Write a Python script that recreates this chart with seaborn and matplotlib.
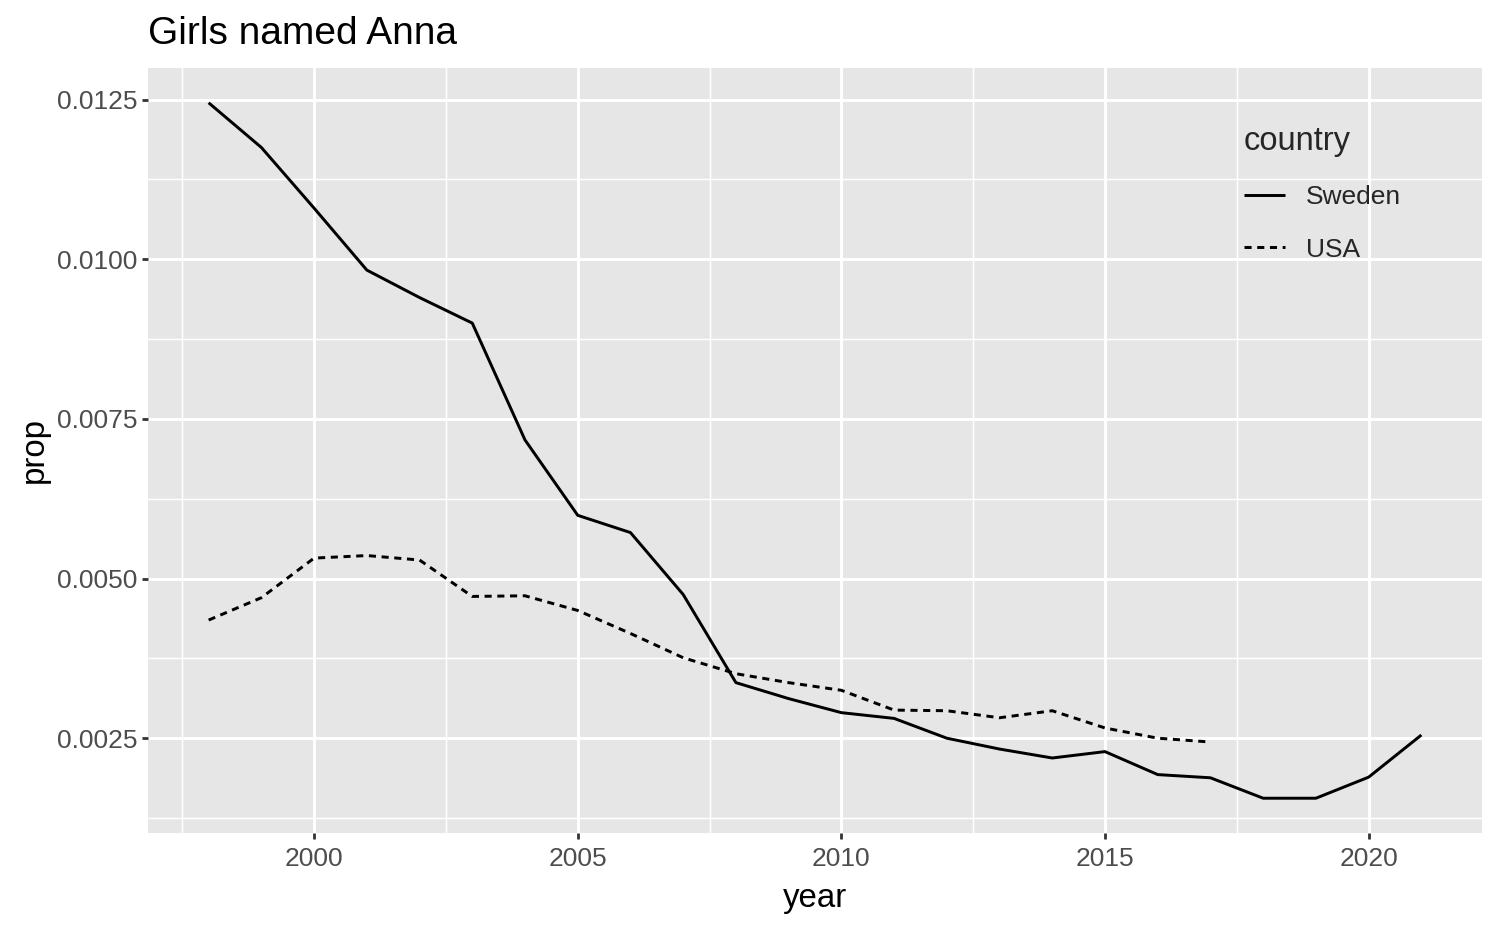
import numpy as np
import pandas as pd
import matplotlib
matplotlib.use("Agg")
import matplotlib.pyplot as plt
from matplotlib.ticker import FixedLocator
import seaborn as sns

years_sweden = list(range(1998, 2022))
prop_sweden = [0.01245, 0.01175, 0.01080, 0.00983, 0.00940, 0.00900, 0.00717, 0.00599,
               0.00572, 0.00475, 0.00337, 0.00312, 0.00290, 0.00281, 0.00250, 0.00233,
               0.00219, 0.00229, 0.00193, 0.00188, 0.00156, 0.00156, 0.00189, 0.00255]
years_usa = list(range(1998, 2018))
prop_usa = [0.00435, 0.00470, 0.00532, 0.00536, 0.00529, 0.00472, 0.00473, 0.00450,
            0.00414, 0.00376, 0.00351, 0.00337, 0.00325, 0.00294, 0.00293, 0.00282,
            0.00293, 0.00266, 0.00250, 0.00244]
countries = ["Sweden", "USA"]
x_ticks = [2000, 2005, 2010, 2015, 2020]
y_ticks = [0.0025, 0.0050, 0.0075, 0.0100, 0.0125]
y_tick_labels = ["0.0025", "0.0050", "0.0075", "0.0100", "0.0125"]

df = pd.concat([
    pd.DataFrame({"year": years_sweden, "prop": prop_sweden, "country": countries[0]}),
    pd.DataFrame({"year": years_usa, "prop": prop_usa, "country": countries[1]}),
])

sns.set_theme(style="darkgrid")
plt.rcParams["font.family"] = ["Liberation Sans", "DejaVu Sans"]

W, H = 1500, 927
fig = plt.figure(figsize=(W / 100, H / 100), dpi=100)
fig.patch.set_facecolor("white")
L, R, T, B = 148, 1482, 68, 833
ax = fig.add_axes([L / W, 1 - B / H, (R - L) / W, (B - T) / H])
ax.set_facecolor("#E6E6E6")

lw = 2.13
sns.lineplot(data=df, x="year", y="prop", style="country", style_order=countries,
             dashes={"Sweden": "", "USA": (2.4, 1.9)}, color="black",
             linewidth=lw, ax=ax, legend=True, zorder=3)
for ln in ax.get_lines():
    ln.set_dash_capstyle("butt")
    ln.set_solid_capstyle("butt")

# limits with ggplot-style 5% expansion
xmin, xmax = min(years_sweden), max(years_sweden)
xr = xmax - xmin
ax.set_xlim(xmin - 0.05 * xr, xmax + 0.05 * xr)
ymin = min(prop_sweden + prop_usa)
ymax = max(prop_sweden + prop_usa)
yr = ymax - ymin
ax.set_ylim(ymin - 0.05 * yr, ymax + 0.05 * yr)

ax.set_xticks(x_ticks)
ax.set_xticklabels([str(v) for v in x_ticks])
ax.set_yticks(y_ticks)
ax.set_yticklabels(y_tick_labels)
ax.xaxis.set_minor_locator(FixedLocator([1997.5, 2002.5, 2007.5, 2012.5, 2017.5]))
ax.yaxis.set_minor_locator(FixedLocator([0.00125, 0.00375, 0.00625, 0.00875, 0.01125]))

ax.grid(which="major", color="white", linewidth=2.13)
ax.grid(which="minor", color="white", linewidth=1.07)
ax.set_axisbelow(True)
for s in ax.spines.values():
    s.set_visible(False)

ax.tick_params(axis="both", which="major", length=4.3, width=2.0, color="#333333",
               labelsize=19, labelcolor="#4D4D4D", pad=3.6, bottom=True, left=True)
ax.tick_params(axis="x", which="major", pad=5.6)
ax.tick_params(axis="both", which="minor", length=0)

ax.set_xlabel("year", fontsize=23.8, color="black", labelpad=9)
ax.set_ylabel("prop", fontsize=23.8, color="black", labelpad=5)
ax.set_title("Girls named Anna", loc="left", fontsize=28, color="black", pad=17)

handles, labels = ax.get_legend_handles_labels()
leg = ax.legend(handles=handles, labels=labels, title="country",
                loc="upper left", bbox_to_anchor=(1223 / W, 1 - 105 / H),
                bbox_transform=fig.transFigure, frameon=False,
                fontsize=19, title_fontsize=23.5, handlelength=1.55,
                handletextpad=0.8, labelspacing=1.07, borderpad=0.3)
leg._legend_box.align = "left"
for h in leg.get_lines():
    h.set_linewidth(lw)
    h.set_color("black")

fig.savefig("out.png", dpi=100, facecolor="white")
